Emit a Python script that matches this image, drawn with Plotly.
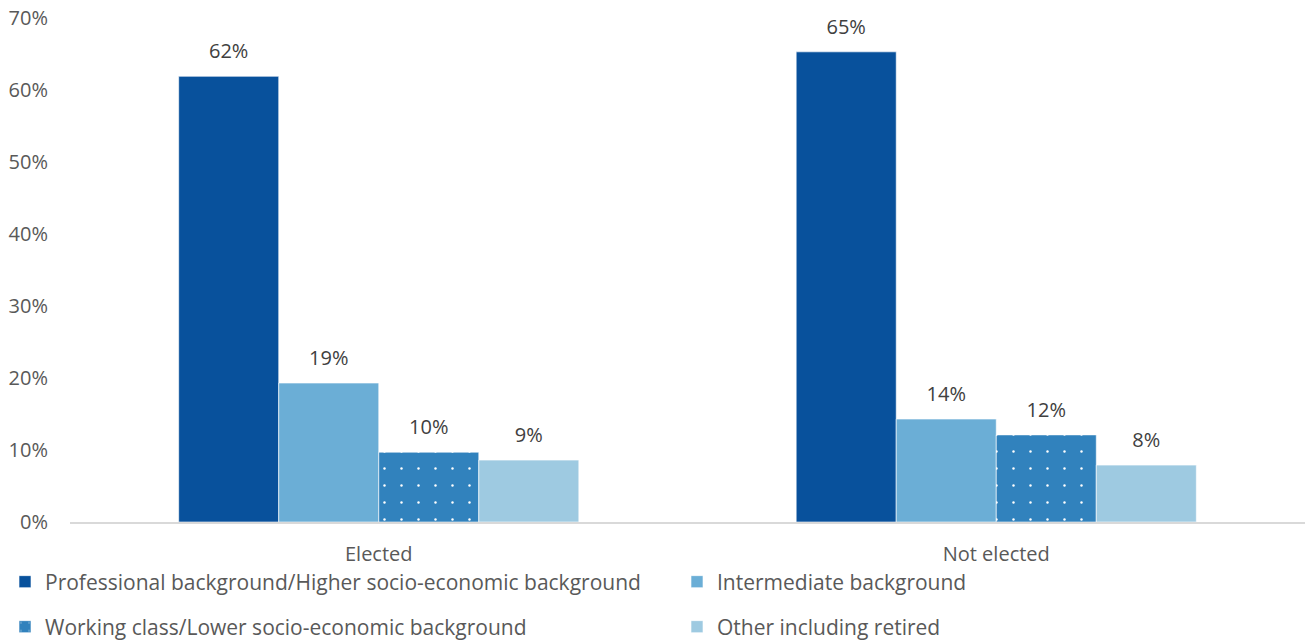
import plotly.graph_objects as go

# Share of candidates by socio-economic background
groups = ["Elected", "Not elected"]
professional = [61.9, 65.3]
intermediate = [19.3, 14.3]
working = [9.7, 12.1]
other = [8.6, 7.9]

names = [
    "Professional background/Higher socio-economic background",
    "Intermediate background",
    "Working class/Lower socio-economic background",
    "Other including retired",
]
values = [professional, intermediate, working, other]
colors = ["#08519c", "#6baed6", "#3182bd", "#9ecae1"]

FONT = "Open Sans, Arial, sans-serif"
FS = 20
LEGEND_FS = 21
TICK_COLOR = "#595959"
LABEL_COLOR = "#404040"

# one legend box per entry, laid out as a 2 x 2 grid under the chart
legend_ids = ["legend", "legend2", "legend3", "legend4"]
legend_pos = [(5, 582), (677, 582), (5, 627), (677, 627)]

fig = go.Figure()

for i, (name, vals, color) in enumerate(zip(names, values, colors)):
    marker = dict(color=color, line=dict(color="rgba(255,255,255,0.6)", width=1))
    if i == 2:
        marker["pattern"] = dict(shape=".", fgcolor="white", fgopacity=1,
                                 size=17, solidity=0.016, fillmode="overlay")
    fig.add_trace(go.Bar(
        x=groups, y=vals, name=name, marker=marker,
        offsetgroup=str(i), legend=legend_ids[i], hoverinfo="skip",
    ))
    # value labels above each bar
    fig.add_trace(go.Scatter(
        x=groups, y=vals, mode="markers+text", orientation="v",
        offsetgroup=str(i), showlegend=False, hoverinfo="skip",
        marker=dict(size=19, color="rgba(0,0,0,0)"),
        text=[f"{v:.0f}%" for v in vals], textposition="top center",
        textfont=dict(family=FONT, size=FS, color=LABEL_COLOR),
        cliponaxis=False,
    ))

W, H = 1305, 642
legends = {}
for lid, (px, py) in zip(legend_ids, legend_pos):
    legends[lid] = dict(
        orientation="h", xref="container", yref="container",
        x=px / W, y=(H - py) / H, xanchor="left", yanchor="middle",
        font=dict(family=FONT, size=LEGEND_FS, color=TICK_COLOR),
        bgcolor="rgba(0,0,0,0)", borderwidth=0,
    )

fig.update_layout(
    width=W, height=H,
    margin=dict(l=70, r=0, t=18, b=120, autoexpand=False),
    paper_bgcolor="white", plot_bgcolor="white",
    barmode="group", bargap=0.352, bargroupgap=0,
    scattermode="group",
    font=dict(family=FONT, size=FS, color=TICK_COLOR),
    xaxis=dict(
        showline=True, linecolor="#d9d9d9", linewidth=1.5,
        ticks="outside", ticklen=13, tickcolor="rgba(0,0,0,0)",
        tickfont=dict(family=FONT, size=FS, color=TICK_COLOR),
        showgrid=False, zeroline=False,
    ),
    yaxis=dict(
        range=[0, 70], dtick=10, ticksuffix="%",
        showgrid=False, zeroline=False, showline=False,
        tickfont=dict(family=FONT, size=FS, color=TICK_COLOR),
        ticks="outside", ticklen=17, tickcolor="rgba(0,0,0,0)",
    ),
    **legends,
)

fig.write_html("out.html")
